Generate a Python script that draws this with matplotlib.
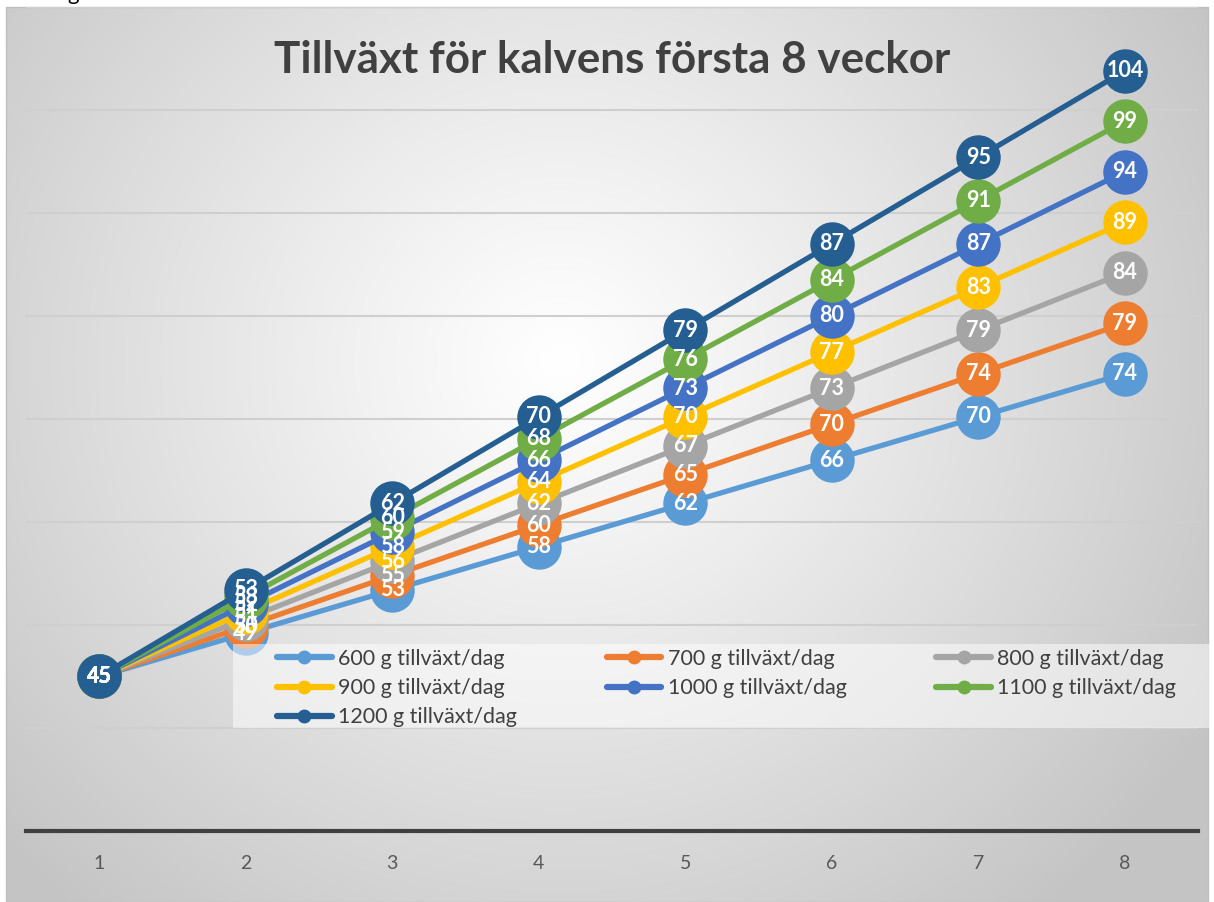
import numpy as np
import matplotlib
matplotlib.use("Agg")
import matplotlib.pyplot as plt

weeks = [1, 2, 3, 4, 5, 6, 7, 8]
series_names = ["600 g tillväxt/dag", "700 g tillväxt/dag", "800 g tillväxt/dag",
                "900 g tillväxt/dag", "1000 g tillväxt/dag", "1100 g tillväxt/dag",
                "1200 g tillväxt/dag"]
g600 = [45, 49.2, 53.4, 57.6, 61.8, 66.0, 70.2, 74.4]
g700 = [45, 49.9, 54.8, 59.7, 64.6, 69.5, 74.4, 79.3]
g800 = [45, 50.6, 56.2, 61.8, 67.4, 73.0, 78.6, 84.2]
g900 = [45, 51.3, 57.6, 63.9, 70.2, 76.5, 82.8, 89.1]
g1000 = [45, 52.0, 59.0, 66.0, 73.0, 80.0, 87.0, 94.0]
g1100 = [45, 52.7, 60.4, 68.1, 75.8, 83.5, 91.2, 98.9]
g1200 = [45, 53.4, 61.8, 70.2, 78.6, 87.0, 95.4, 103.8]
series_values = [g600, g700, g800, g900, g1000, g1100, g1200]
colors = ["#5B9BD5", "#ED7D31", "#A5A5A5", "#FFC000", "#4472C4", "#70AD47", "#255E91"]
title = "Tillväxt för kalvens första 8 veckor"

plt.rcParams['font.family'] = ['Lato', 'DejaVu Sans']

W, H = 1214, 902
fig = plt.figure(figsize=(W / 100, H / 100), dpi=100)
fig.patch.set_facecolor("white")

# page text cut off at the top
fig.text(25 / W, 1 + 6 / H, "45 kg.", fontsize=16, color="black", va="center", ha="left")

# chart area background with radial gradient
cx0, cy0, cx1, cy1 = 6, 7, 1208, 902
bg = fig.add_axes([cx0 / W, 1 - cy1 / H, (cx1 - cx0) / W, (cy1 - cy0) / H], zorder=0)
xx, yy = np.meshgrid(np.arange(cx0, cx1), np.arange(cy0, cy1))
d = np.hypot(xx - 560, (yy - 360) * 1.05)
t = np.clip(d / 760, 0, 1) ** 1.1
gray = 255 - (255 - 196) * t
img = np.dstack([gray, gray, gray]).astype(np.uint8)
bg.imshow(img, aspect="auto", interpolation="bilinear")
bg.set_axis_off()
bg.add_patch(plt.Rectangle((0, 0), 1, 1, transform=bg.transAxes, fill=False,
                           edgecolor="#bfbfbf", lw=1.0, clip_on=False))

# plot area
left, right, bottom_px, top_px = 26, 1198, 831, 7
ax = fig.add_axes([left / W, 1 - bottom_px / H, (right - left) / W, (bottom_px - top_px) / H], zorder=1)
ax.patch.set_alpha(0)
ax.set_xlim(0.5, 8.5)
ax.set_ylim(30, 110)
ax.set_yticks(np.arange(40, 111, 10))
ax.yaxis.grid(True, color="#cfcfcf", lw=1.5)
ax.set_axisbelow(True)
ax.tick_params(axis="y", left=False, labelleft=False)
ax.set_xticks(weeks)
ax.set_xticklabels([str(w) for w in weeks])
ax.tick_params(axis="x", bottom=False, labelsize=14, labelcolor="#595959", pad=14)
for s in ["top", "right", "left"]:
    ax.spines[s].set_visible(False)
ax.spines["bottom"].set_color("#404040")
ax.spines["bottom"].set_linewidth(3)

for i, (name, vals, c) in enumerate(zip(series_names, series_values, colors)):
    ax.plot(weeks, vals, color=c, lw=3.8, marker="o", markersize=32,
            markeredgewidth=0, zorder=3 + i, label=name, solid_capstyle="round")
for i, (vals, c) in enumerate(zip(series_values, colors)):
    for x, v in zip(weeks, vals):
        ax.text(x, v, f"{int(np.floor(v + 0.5))}", color="white", fontsize=15.5,
                fontweight="bold", ha="center", va="center", zorder=20 + i)

# legend background box
lx0, ly0, lx1, ly1 = 233, 644, 1212, 728
fig.patches.append(plt.Rectangle((lx0 / W, 1 - ly1 / H), (lx1 - lx0) / W, (ly1 - ly0) / H,
                                 transform=fig.transFigure, facecolor="white", alpha=0.5,
                                 edgecolor="none", zorder=1.5))

# legend (row-wise order as in reference)
order = [0, 3, 6, 1, 4, 2, 5]
handles = [plt.Line2D([], [], color=colors[k], lw=4.5, marker="o", markersize=9,
                      solid_capstyle="round") for k in order]
labels = [series_names[k] for k in order]
leg = fig.legend(handles, labels, ncol=3, loc="upper left",
                 bbox_to_anchor=(277 / W, 1 - 649 / H),
                 fontsize=15.5, frameon=False, handlelength=2.55,
                 handletextpad=0.3, labelspacing=0.42, columnspacing=4.15,
                 borderpad=0, borderaxespad=0, labelcolor="#404040")
leg.set_zorder(40)

fig.text(612 / W, 1 - 60 / H, title, fontsize=31.7, fontweight="bold", color="#404040",
         ha="center", va="center")

fig.savefig("out.png", dpi=100)
